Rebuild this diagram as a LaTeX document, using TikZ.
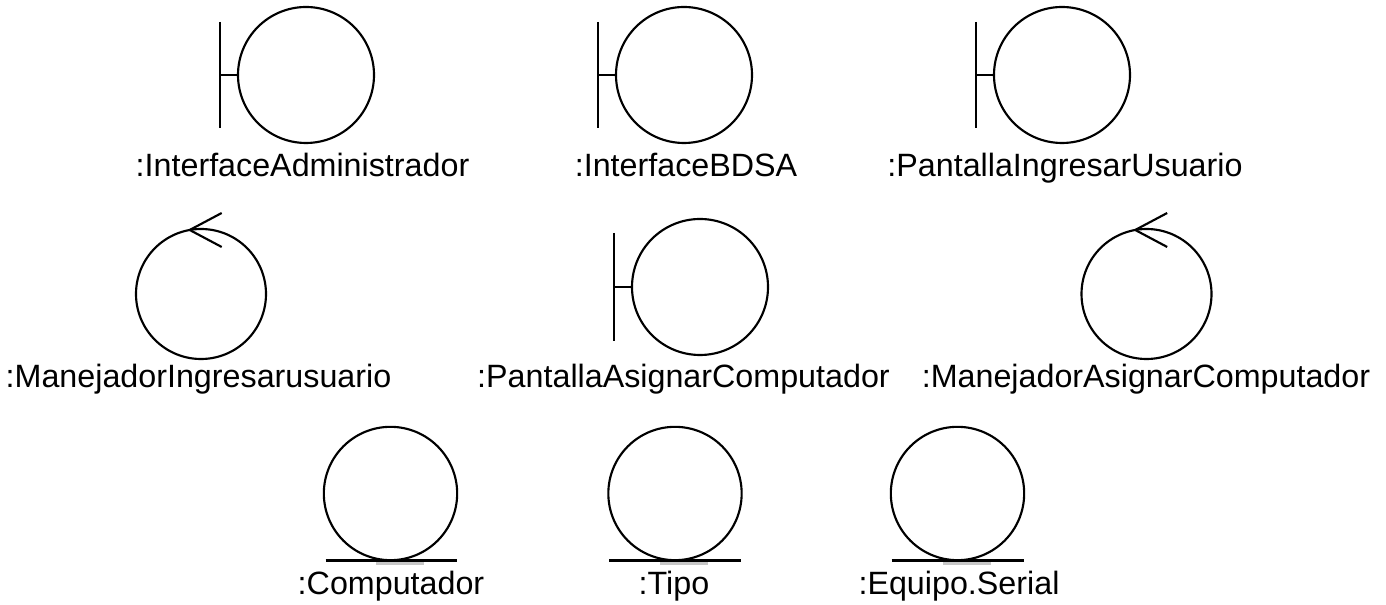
\documentclass[tikz,border=0pt]{standalone}
\usepackage{fontspec}
\setmainfont{Liberation Sans}
\usetikzlibrary{positioning,calc}
\tikzset{
    roleshape/.style={draw,circle,line width=1.6pt,inner sep=0pt,outer sep=0pt},
    bigrole/.style={roleshape,minimum size=102pt},
    ctrlrole/.style={roleshape,minimum size=97.5pt},
    entrole/.style={roleshape,minimum size=100pt},
    rolename/.style={inner sep=0pt,anchor=base,font=\fontsize{24.2pt}{29pt}\selectfont},
    edgeline/.style={line width=1.6pt},
    groundline/.style={line width=2.1pt},
    shadow/.style={fill=black!22,draw=none}
}

\begin{document}
\begin{tikzpicture}[x=0.75pt,y=-0.75pt]
    \useasboundingbox (0,0) rectangle (1386,605);

    % Boundary objects
    \node[bigrole] (admin) at (306,75) {};
    \node[bigrole] (bdsa) at (684,75) {};
    \node[bigrole] (ingresar) at (1062,75) {};
    \node[bigrole] (asignar) at (700,287) {};

    \draw[edgeline] (admin.west) -- ++(-18,0) coordinate (adminbar);
    \draw[edgeline] ($(adminbar)+(0,-53)$) -- ($(adminbar)+(0,53)$);
    \draw[edgeline] (bdsa.west) -- ++(-18,0) coordinate (bdsabar);
    \draw[edgeline] ($(bdsabar)+(0,-53)$) -- ($(bdsabar)+(0,53)$);
    \draw[edgeline] (ingresar.west) -- ++(-18,0) coordinate (ingresarbar);
    \draw[edgeline] ($(ingresarbar)+(0,-53)$) -- ($(ingresarbar)+(0,53)$);
    \draw[edgeline] (asignar.west) -- ++(-18,0) coordinate (asignarbar);
    \draw[edgeline] ($(asignarbar)+(0,-54)$) -- ($(asignarbar)+(0,54)$);

    % Control objects
    \node[ctrlrole] (mingresar) at (201,294) {};
    \node[ctrlrole] (masignar) at (1146.5,294) {};

    \draw[edgeline] (mingresar.100) -- ++(32,-17);
    \draw[edgeline] (mingresar.100) -- ++(32,17);
    \draw[edgeline] (masignar.100) -- ++(32,-17);
    \draw[edgeline] (masignar.100) -- ++(32,17);

    % Entity objects
    \node[entrole] (computador) at (390.5,493.5) {};
    \node[entrole] (tipo) at (675,493.5) {};
    \node[entrole] (serial) at (957.5,493.5) {};

    \fill[shadow] ($(computador.south)+(-28,-1)$) rectangle ($(computador.south)+(38,2)$);
    \fill[shadow] ($(computador.south)+(-15,2)$) rectangle ($(computador.south)+(33,5)$);
    \fill[shadow] ($(tipo.south)+(-28,-1)$) rectangle ($(tipo.south)+(38,2)$);
    \fill[shadow] ($(tipo.south)+(-15,2)$) rectangle ($(tipo.south)+(33,5)$);
    \fill[shadow] ($(serial.south)+(-28,-1)$) rectangle ($(serial.south)+(38,2)$);
    \fill[shadow] ($(serial.south)+(-15,2)$) rectangle ($(serial.south)+(33,5)$);

    \draw[groundline] ($(computador.south)+(-65,0)$) -- ($(computador.south)+(66,0)$);
    \draw[groundline] ($(tipo.south)+(-66,0)$) -- ($(tipo.south)+(66,0)$);
    \draw[groundline] ($(serial.south)+(-66,0)$) -- ($(serial.south)+(66,0)$);

    % Labels
    \node[rolename] (adminname) at (302.5,177) {:InterfaceAdministrador};
    \node[rolename] (bdsaname) at (686,177) {:InterfaceBDSA};
    \node[rolename] (ingresarname) at (1065,177) {:PantallaIngresarUsuario};
    \node[rolename] (mingresarname) at (198.5,388) {:ManejadorIngresarusuario};
    \node[rolename] (asignarname) at (683.5,388) {:PantallaAsignarComputador};
    \node[rolename] (masignarname) at (1146,388) {:ManejadorAsignarComputador};
    \node[rolename] (computadorname) at (391,595) {:Computador};
    \node[rolename] (tiponame) at (674,595) {:Tipo};
    \node[rolename] (serialname) at (959,595) {:Equipo.Serial};
\end{tikzpicture}
\end{document}
